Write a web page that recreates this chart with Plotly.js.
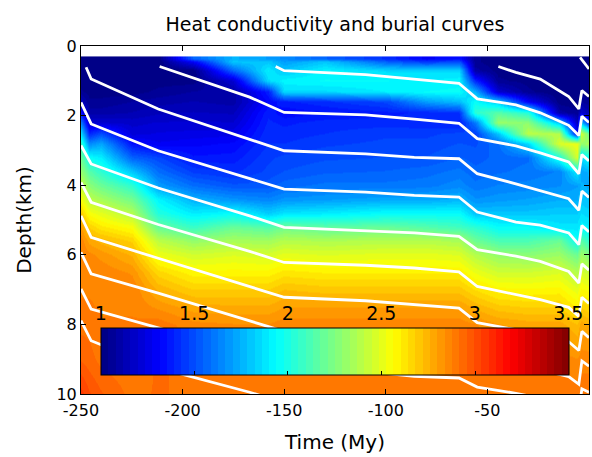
<!DOCTYPE html>
<html><head><meta charset="utf-8">
<script src="https://cdn.plot.ly/plotly-3.0.1.min.js"></script>
<style>html,body{margin:0;padding:0;background:#fff}#chart{width:592px;height:457px}</style>
</head><body><div id="chart"></div>
<script>
// ---------- data ----------
// heat conductivity grid: columns at these times (My), rows at these depths (km)
const kTime = [-250, -246, -240, -225, -212, -195, -175, -158, -150, -130, -100, -80, -64, -56, -45, -30, -15, -6, -4, 0];
const kDepth = [0.35, 0.45, 0.7, 1.0, 1.3, 1.6, 1.9, 2.2, 2.5, 2.8, 3.2, 3.6, 4.0, 4.4, 4.8, 5.2, 5.6, 6.0, 6.5, 7.0, 7.5, 8.0, 9.0, 10.0];
// one conductivity profile (top to bottom) per time column
const kProfiles = [
  [1.0,1.0,1.0,1.0,1.05,1.15,1.33,1.6,1.85,2.05,2.2,2.3,2.42,2.55,2.68,2.8,2.86,2.87,2.87,2.87,2.88,2.9,2.95,3.05],   // -250
  [1.0,1.0,1.0,1.0,1.02,1.05,1.1,1.2,1.4,1.65,1.95,2.15,2.28,2.4,2.55,2.68,2.78,2.85,2.87,2.87,2.88,2.9,2.93,3.0],   // -246
  [1.0,1.0,1.0,1.0,1.02,1.05,1.1,1.2,1.5,1.72,1.9,2.05,2.2,2.35,2.5,2.62,2.74,2.82,2.87,2.87,2.87,2.88,2.9,2.96],   // -240
  [1.0,1.0,1.0,1.0,1.02,1.08,1.12,1.18,1.22,1.35,1.55,1.8,2.05,2.22,2.38,2.55,2.67,2.75,2.83,2.87,2.87,2.88,2.88,2.9], // -225
  [1.0,1.0,1.0,1.02,1.05,1.1,1.15,1.2,1.24,1.28,1.48,1.58,1.7,1.92,2.02,2.2,2.4,2.52,2.66,2.75,2.83,2.9,2.92,2.92],  // -212
  [1.55,1.3,1.0,1.02,1.08,1.12,1.16,1.2,1.25,1.3,1.36,1.46,1.58,1.75,1.9,2.08,2.3,2.45,2.58,2.68,2.78,2.85,2.9,2.9], // -195
  [1.75,1.8,1.55,1.2,1.1,1.1,1.15,1.2,1.26,1.32,1.37,1.42,1.52,1.68,1.95,2.2,2.35,2.48,2.58,2.68,2.77,2.84,2.88,2.9], // -175
  [1.7,1.8,1.9,1.85,1.38,1.32,1.38,1.4,1.42,1.43,1.46,1.48,1.53,1.64,1.82,2.15,2.33,2.46,2.58,2.68,2.77,2.84,2.88,2.9], // -158
  [1.65,1.7,1.8,1.92,1.85,1.38,1.32,1.38,1.41,1.43,1.48,1.51,1.57,1.68,1.88,2.22,2.38,2.5,2.62,2.72,2.8,2.86,2.88,2.9], // -150
  [1.55,1.8,1.92,1.94,1.85,1.42,1.35,1.41,1.43,1.46,1.5,1.54,1.6,1.7,1.9,2.17,2.36,2.48,2.6,2.7,2.8,2.86,2.88,2.9], // -130
  [1.42,1.55,1.85,1.94,1.9,1.48,1.38,1.41,1.46,1.48,1.51,1.55,1.6,1.73,1.95,2.2,2.38,2.5,2.6,2.7,2.8,2.86,2.88,2.9], // -100
  [1.3,1.45,1.85,1.9,1.94,1.7,1.4,1.4,1.46,1.48,1.51,1.57,1.61,1.73,1.95,2.15,2.38,2.5,2.6,2.7,2.8,2.86,2.88,2.9],  // -80
  [1.35,1.5,1.85,1.92,1.95,1.78,1.43,1.38,1.48,1.51,1.55,1.6,1.65,1.76,1.95,2.1,2.35,2.48,2.6,2.7,2.8,2.86,2.88,2.9], // -64
  [1.05,1.05,1.1,1.4,1.75,1.95,2.05,1.6,1.46,1.5,1.53,1.56,1.6,1.67,1.8,2.05,2.2,2.38,2.52,2.64,2.75,2.84,2.88,2.9], // -56
  [1.0,1.0,1.02,1.05,1.2,1.8,2.15,2.32,1.8,1.58,1.56,1.58,1.63,1.69,1.8,1.95,2.12,2.3,2.45,2.58,2.7,2.8,2.87,2.9],   // -45
  [1.0,1.0,1.0,1.02,1.05,1.3,2.02,2.28,2.4,1.85,1.58,1.6,1.64,1.71,1.8,1.95,2.12,2.28,2.45,2.57,2.68,2.78,2.87,2.9], // -30
  [1.0,1.0,1.0,1.0,1.0,1.02,1.1,1.8,2.37,2.47,2.0,1.63,1.66,1.74,1.82,1.88,2.2,2.32,2.48,2.58,2.68,2.78,2.86,2.9],   // -15
  [1.0,1.0,1.0,1.0,1.0,1.0,1.05,1.15,1.3,2.52,2.47,1.9,1.7,1.74,1.82,1.88,1.95,2.2,2.38,2.5,2.6,2.72,2.84,2.9],      // -6
  [1.0,1.0,1.0,1.0,1.02,1.08,1.2,1.8,2.45,2.3,1.85,1.72,1.75,1.8,1.86,1.93,2.15,2.32,2.47,2.57,2.68,2.78,2.86,2.9],  // -4
  [1.0,1.0,1.0,1.0,1.0,1.05,1.12,1.4,2.2,2.35,1.95,1.75,1.73,1.78,1.84,1.9,2.05,2.25,2.42,2.55,2.65,2.76,2.86,2.9]   // 0
];

// burial curves: depth (km) of each horizon at these times (null = not read / not yet deposited)
const burialTime = [-250, -247.5, -245, -212, -211.3, -167, -154.2, -150, -110, -86, -64, -55, -44.6, -36, -24, -10, -5, -4.4, -3.5, 0];
const burialDepths = [
  [null,null,null,null,null,null,null,null,null,null,null,null,null,null,null,null,null,0.33,0.4,0.66],
  [null,null,null,null,null,null,null,null,null,null,null,null,0.59,0.76,0.95,1.45,1.81,null,1.28,1.45],
  [null,null,null,null,null,null,0.59,0.71,0.82,0.95,1.07,1.52,null,1.69,1.92,2.28,2.57,null,2.02,2.2],
  [null,null,null,null,0.59,1.47,null,1.91,1.98,2.10,2.22,2.66,null,2.87,3.07,3.33,3.67,null,3.12,3.3],
  [null,0.61,0.95,1.81,null,2.67,null,3.01,3.10,3.20,3.24,3.67,null,3.96,4.15,4.39,4.72,null,4.17,4.35],
  [1.62,null,2.24,3.01,null,3.82,null,4.11,4.2,4.29,4.34,4.77,null,5.06,5.15,5.37,5.71,null,5.16,5.34],
  [2.86,null,3.39,4.08,null,4.88,null,5.21,5.3,5.37,5.47,5.85,null,6.04,6.19,6.48,6.81,null,6.26,6.44],
  [3.92,null,4.49,5.13,null,5.9,null,6.22,6.3,6.38,6.49,6.91,null,7.13,7.29,7.51,7.77,null,7.22,7.4],
  [4.88,null,5.50,6.1,null,6.9,null,7.22,7.32,7.43,7.53,7.95,null,8.15,8.3,8.5,8.75,null,8.2,8.38],
  [5.93,null,6.55,7.1,null,7.9,null,8.2,8.33,8.45,8.55,8.95,null,9.15,9.3,9.5,9.72,null,9.05,9.2],
  [6.98,null,7.56,8.1,null,8.85,null,9.15,9.35,9.49,9.54,9.8,null,9.98,10.12,10.35,10.5,null,9.85,9.95],
  [7.89,null,8.47,9.25,null,9.95,null,10.25,null,null,null,null,null,null,null,null,null,null,null,null]
];

const xTickVals = [-250, -200, -150, -100, -50, 0];
const xTickText = ['-250', '-200', '-150', '-100', '-50', '0'];
const yTickVals = [0, 2, 4, 6, 8, 10];
const cbTickVals = [1, 1.5, 2, 2.5, 3, 3.5];
const cbTickText = ['1', '1.5', '2', '2.5', '3', '3.5'];
const kMin = 1, kMax = 3.5;

// ---------- styling helpers ----------
function clamp(v) { return Math.max(0, Math.min(1, v)); }
function jet(x) {
  const r = clamp(1.5 - Math.abs(4 * x - 3));
  const g = clamp(1.5 - Math.abs(4 * x - 2));
  const b = clamp(1.5 - Math.abs(4 * x - 1));
  return 'rgb(' + Math.round(r * 255) + ',' + Math.round(g * 255) + ',' + Math.round(b * 255) + ')';
}
const jetScale = [];
for (let i = 0; i < 64; i++) {
  const c = jet((i + 0.5) / 64);
  jetScale.push([i / 64, c], [(i + 1) / 64, c]);
}

// build z table (rows = depths, cols = times)
const z = kDepth.map((_, r) => kProfiles.map(col => col[r]));

// ---------- geometry (pixels) ----------
const W = 592, H = 457;
const pL = 81, pR = 589, pT = 46, pB = 394;
const pw = pR - pL, ph = pB - pT;
const cbL = 100.7, cbR = 568.3, cbT = 327.7, cbB = 374.3;
const cbLen = cbR - cbL;
const span = kMax - kMin;
const x2Range = [kMin - (cbL - pL) / cbLen * span, kMax + (pR - cbR) / cbLen * span];

const FONT = 'DejaVu Sans';

const traces = [{
  type: 'heatmap',
  x: kTime, y: kDepth, z: z,
  zmin: kMin, zmax: kMax,
  zsmooth: 'best',
  colorscale: jetScale,
  hoverinfo: 'skip',
  colorbar: {
    orientation: 'h',
    lenmode: 'pixels', len: cbLen,
    thicknessmode: 'pixels', thickness: cbB - cbT,
    x: (cbL - pL) / pw, xanchor: 'left', xref: 'paper',
    y: (pB - cbT) / ph, yanchor: 'top', yref: 'paper',
    xpad: 0, ypad: 0,
    outlinewidth: 1, outlinecolor: '#000',
    borderwidth: 0,
    ticks: 'inside', ticklen: 4, tickcolor: '#000', tickwidth: 1,
    tickvals: cbTickVals, showticklabels: false
  }
}];

burialDepths.forEach(d => {
  traces.push({
    type: 'scatter', mode: 'lines',
    x: burialTime, y: d,
    connectgaps: true,
    line: { color: '#ffffff', width: 2.8 },
    hoverinfo: 'skip', showlegend: false
  });
});

// carrier trace so the colour-scale label axis (x2) is drawn
traces.push({
  type: 'scatter', mode: 'markers',
  x: cbTickVals, y: cbTickVals.map(() => null),
  xaxis: 'x2', yaxis: 'y',
  marker: { opacity: 0 }, hoverinfo: 'skip', showlegend: false
});

const layout = {
  width: W, height: H,
  margin: { l: pL, r: W - pR, t: pT, b: H - pB, pad: 0 },
  paper_bgcolor: '#fff', plot_bgcolor: '#fff',
  font: { family: FONT, color: '#000', size: 16 },
  showlegend: false,
  title: {
    text: 'Heat conductivity and burial curves',
    font: { size: 19, family: FONT, color: '#000' },
    x: 0.5, xref: 'paper', xanchor: 'center',
    y: 1 - 24 / H, yref: 'container', yanchor: 'middle'
  },
  xaxis: {
    range: [-250, 0], tickvals: xTickVals, ticktext: xTickText,
    ticks: 'inside', ticklen: 5, tickcolor: '#000',
    showline: true, linecolor: '#000', linewidth: 1, mirror: 'ticks',
    showgrid: false, zeroline: false,
    tickfont: { size: 16 }, ticklabelstandoff: 2,
    title: { text: 'Time (My)', font: { size: 20 }, standoff: 15 }
  },
  yaxis: {
    range: [10, 0], tickvals: yTickVals,
    ticks: 'inside', ticklen: 5, tickcolor: '#000',
    showline: true, linecolor: '#000', linewidth: 1, mirror: 'ticks',
    showgrid: false, zeroline: false,
    tickfont: { size: 16 },
    title: { text: 'Depth(km)', font: { size: 20 }, standoff: 19 }
  },
  xaxis2: {
    overlaying: 'x', anchor: 'free', position: (pB - cbT) / ph, side: 'top',
    range: x2Range, tickvals: cbTickVals, ticktext: cbTickText,
    ticks: '', showline: false, showgrid: false, zeroline: false,
    tickfont: { size: 19 }, ticklabelstandoff: 4
  }
};

Plotly.newPlot('chart', traces, layout, { staticPlot: true, displayModeBar: false });
</script>
</body></html>
